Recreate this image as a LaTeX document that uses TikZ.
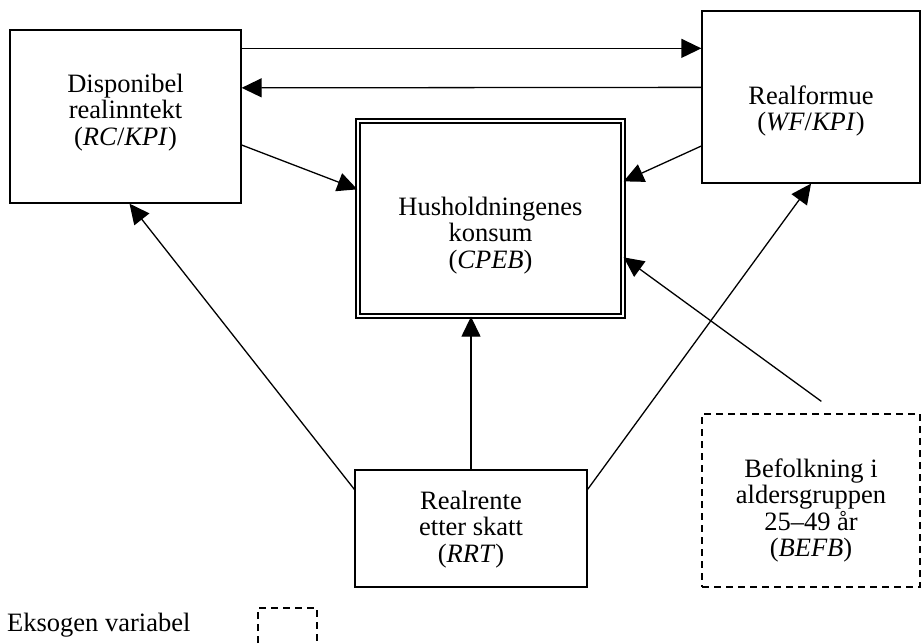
\documentclass[tikz,border=0pt]{standalone}
\usepackage{fontspec}
\setmainfont{Liberation Serif}
\usetikzlibrary{arrows.meta}
\begin{document}
\begin{tikzpicture}[x=1pt,y=-1pt,
  every node/.style={font=\fontsize{26.5}{26.5}\selectfont, align=center, inner sep=0pt},
  var/.style={draw, line width=1.3pt, rectangle},
  exo/.style={var, dashed, dash pattern=on 7pt off 5pt},
  endo/.style={draw, rectangle, double, double distance=2.5pt, line width=1.3pt},
  link/.style={line width=1.3pt, -{Triangle[length=20pt,width=19pt]}}]
\useasboundingbox (0,0) rectangle (924,643);

% variable boxes
\node[var, minimum width=231pt, minimum height=173pt] (disp) at (125.5,116.5) {};
\node[var, minimum width=218pt, minimum height=172pt] (wealth) at (811,97) {};
\node[endo, minimum width=265pt, minimum height=195pt] (cons) at (490.5,218.5) {};
\node[var, minimum width=232pt, minimum height=117pt] (rate) at (471,528.5) {};
\node[exo, minimum width=218pt, minimum height=173pt] (pop) at (811,500.5) {};

% box texts
\node (disptext) at ([yshift=4pt]disp.center) {Disponibel\\realinntekt\\(\textit{RC}/\textit{KPI})};
\node (wealthtext) at ([yshift=-14pt]wealth.center) {Realformue\\(\textit{WF}/\textit{KPI})};
\node (constext) at ([yshift=-17pt]cons.center) {Husholdningenes\\konsum\\(\textit{CPEB})};
\node (ratetext) at ([yshift=-1pt]rate.center) {Realrente\\etter skatt\\(\textit{RRT})};
\node (poptext) at ([yshift=-10pt]pop.center) {Befolkning i\\aldersgruppen\\25--49 år\\(\textit{BEFB})};

% legend
\node[anchor=west] (legtext) at (7,625) {Eksogen variabel};
\draw[exo] (258,643) |- (317,608) -- (317,643);

% connectors
\draw[link] ([yshift=-19pt]disp.north east) -- ([yshift=-38pt]wealth.north west);
\draw[link] ([yshift=-77pt]wealth.north west) -- ([yshift=-58.5pt]disp.north east);
\draw[link] ([yshift=-28.5pt]disp.east) -- ([yshift=-69pt]cons.north west);
\draw[link] ([yshift=-49pt]wealth.west) -- ([yshift=-61pt]cons.north east);
\draw[link] (rate.north) -- (cons.south -| rate.north);
\draw[link] ([yshift=-20pt]rate.north west) -- ([xshift=4pt]disp.south);
\draw[link] ([yshift=-20pt]rate.north east) -- (wealth.south);
\coordinate (popout) at ([xshift=120pt,yshift=12pt]pop.north west);
\draw[link] (popout) -- ([yshift=-137pt]cons.north east);
\end{tikzpicture}
\end{document}
